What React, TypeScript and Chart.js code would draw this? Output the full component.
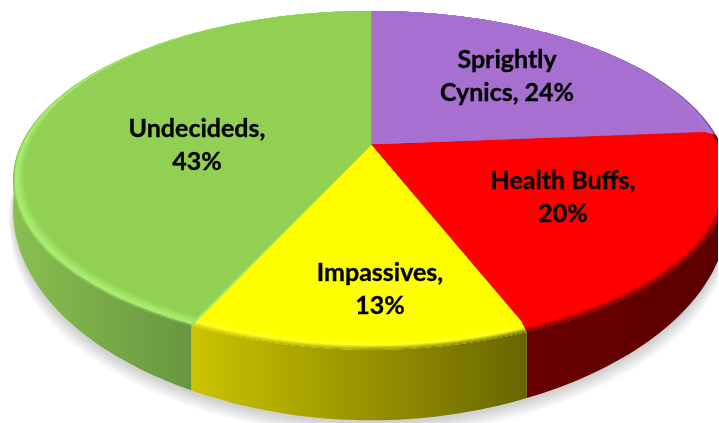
import React, { useEffect, useRef } from "react";
import { Chart, registerables } from "chart.js";

Chart.register(...registerables);

// ---- data ----
const categories = ["Sprightly Cynics", "Health Buffs", "Impassives", "Undecideds"];
const shares = [24, 20, 13, 43];
const labelLines = [
  ["Sprightly", "Cynics, 24%"],
  ["Health Buffs,", "20%"],
  ["Impassives,", "13%"],
  ["Undecideds,", "43%"],
];

// ---- styles ----
const faceColors = ["#a66fd0", "#ff0000", "#ffff00", "#91d052"];
const glowColors = ["#ad78d8", "#ff0000", "#ffff24", "#a6ec6e"];
const sideStart = ["#6a4a88", "#690000", "#cbc400", "#88bf50"];
const sideEnd = ["#6a4a88", "#5c0000", "#686600", "#689640"];
const edgeFade = [0.3, 0.45, 0.4, 0.12];
const labelAnchors = [
  [507, 60],
  [563, 181],
  [380, 273],
  [197, 129],
];
const LINE_GAP = 33;

// ---- perspective of the tilted disc ----
const CX = 371;
const CY = 145;
const RX = 350;
const RY = 162;
const TILT = 0.209;
const NEAR_SQUEEZE = 0.04;
const BEVEL_R = 0.03;
const BEVEL_LIFT = 3;
const STEP = Math.PI / 180;

function rimPoint(a: number, t = 0) {
  const r = 1 - BEVEL_R * t;
  const u = r * Math.cos(a);
  const v = r * Math.sin(a);
  const w = 1 - TILT * v;
  const squeeze = 1 - NEAR_SQUEEZE * Math.pow(Math.max(0, v), 6);
  return { x: CX + ((RX * u) / w) * squeeze, y: CY + (RY * v) / w - BEVEL_LIFT * t };
}

function floorPoint(a: number) {
  const p = rimPoint(a);
  const v = Math.sin(a);
  const w = 1 - TILT * v;
  return { x: p.x, y: p.y + Math.max(0, 20 + (40 * v) / w) };
}

function sweep(a0: number, a1: number) {
  const n = Math.max(2, Math.ceil((a1 - a0) / STEP));
  const out: number[] = [];
  for (let i = 0; i <= n; i++) out.push(a0 + ((a1 - a0) * i) / n);
  return out;
}

function hex(c: string) {
  return [1, 3, 5].map((i) => parseInt(c.slice(i, i + 2), 16));
}
function mix(a: string, b: string, f: number) {
  const x = hex(a);
  const y = hex(b);
  return `rgb(${x.map((v, i) => Math.round(v + (y[i] - v) * f)).join(",")})`;
}

const disc3d = {
  id: "disc3d",
  beforeDatasetsDraw(chart: any) {
    const ctx: CanvasRenderingContext2D = chart.ctx;
    const arcs = chart.getDatasetMeta(0).data as any[];
    ctx.save();
    ctx.beginPath();
    ctx.rect(0, 0, 718, 423);
    ctx.clip();

    // cast shadow: nested opaque greys, fading outwards from the floor outline
    const SHADOW_STEPS = 14;
    for (let d = SHADOW_STEPS; d >= 0; d--) {
      const level = Math.round(255 - (SHADOW_STEPS - d) * 3.2);
      ctx.fillStyle = `rgb(${level},${level},${level})`;
      ctx.beginPath();
      sweep(0.12, Math.PI - 0.12).forEach((a, i) => {
        const p = floorPoint(a);
        const s = Math.min(1, Math.sin(a) * 1.5);
        const x = p.x + d * Math.cos(a) * s;
        const y = p.y + (d * Math.sin(a) + 3) * s;
        i ? ctx.lineTo(x, y) : ctx.moveTo(x, y);
      });
      ctx.closePath();
      ctx.fill();
    }

    // side wall gradients
    const grads = arcs.map((arc, i) => {
      const angs = sweep(arc.startAngle, arc.endAngle).filter((a) => Math.sin(a) > -0.1);
      const xs = angs.map((a) => rimPoint(a).x);
      const g = ctx.createLinearGradient(Math.min(...xs), 0, Math.max(...xs), 0);
      g.addColorStop(0, sideStart[i]);
      g.addColorStop(1, sideEnd[i]);
      return g;
    });

    // side walls
    arcs.forEach((arc, i) => {
      const angs = sweep(arc.startAngle, arc.endAngle);
      ctx.beginPath();
      angs.forEach((a, j) => {
        const p = rimPoint(a);
        j ? ctx.lineTo(p.x, p.y) : ctx.moveTo(p.x, p.y);
      });
      angs
        .slice()
        .reverse()
        .forEach((a) => {
          const p = floorPoint(a);
          ctx.lineTo(p.x, p.y);
        });
      ctx.closePath();
      ctx.fillStyle = grads[i];
      ctx.fill();
    });

    // bevel bands, then the flat top
    const BANDS = 12;
    arcs.forEach((arc, i) => {
      const angs = sweep(arc.startAngle, arc.endAngle);
      for (let b = 0; b <= BANDS; b++) {
        const t = b / BANDS;
        ctx.beginPath();
        ctx.moveTo(CX, CY);
        angs.forEach((a) => {
          const p = rimPoint(a, t);
          ctx.lineTo(p.x, p.y);
        });
        ctx.closePath();
        const f = Math.max(0, Math.min(1, (t - 0.35) / 0.65));
        const base = mix(glowColors[i], faceColors[i], f);
        ctx.fillStyle = base;
        ctx.strokeStyle = base;
        ctx.lineWidth = 0.6;
        ctx.fill();
        if (b === BANDS) ctx.stroke();
        const alpha = Math.max(0, 1 - t / edgeFade[i]);
        if (alpha > 0) {
          ctx.globalAlpha = alpha;
          ctx.fillStyle = grads[i];
          ctx.fill();
          ctx.globalAlpha = 1;
        }
      }
    });
    ctx.restore();

    // data labels
    ctx.save();
    ctx.font = "bold 25px Lato";
    ctx.fillStyle = "#000";
    ctx.strokeStyle = "#000";
    ctx.lineWidth = 0.35;
    ctx.textAlign = "center";
    ctx.textBaseline = "middle";
    labelLines.forEach((lines, i) => {
      lines.forEach((line, j) => {
        const y = labelAnchors[i][1] + j * LINE_GAP;
        ctx.fillText(line, labelAnchors[i][0], y);
        ctx.strokeText(line, labelAnchors[i][0], y);
      });
    });
    ctx.restore();
    return false;
  },
};

export default function App() {
  const ref = useRef<HTMLCanvasElement>(null);
  useEffect(() => {
    const chart = new Chart(ref.current!, {
      type: "pie",
      data: {
        labels: categories,
        datasets: [{ data: shares, backgroundColor: faceColors, borderWidth: 0 }],
      },
      options: {
        animation: false,
        responsive: false,
        plugins: { legend: { display: false }, tooltip: { enabled: false } },
      },
      plugins: [disc3d],
    } as any);
    return () => chart.destroy();
  }, []);
  return (
    <canvas
      ref={ref}
      width={719}
      height={423}
      style={{ position: "fixed", left: 0, top: 0, display: "block", background: "#fff" }}
    />
  );
}
